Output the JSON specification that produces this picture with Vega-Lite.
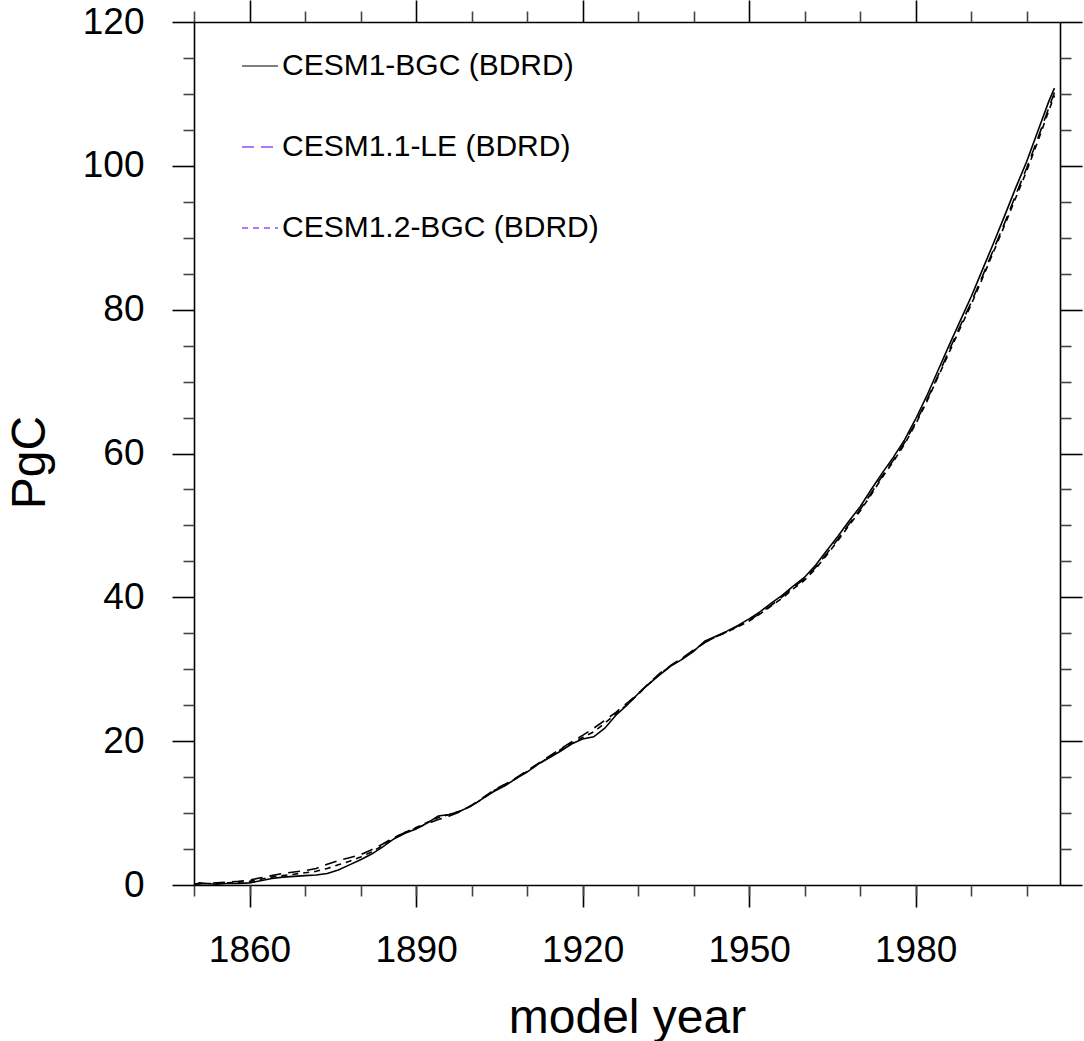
{
  "$schema": "https://vega.github.io/schema/vega-lite/v6.json",
  "autosize": "none",
  "width": 866,
  "height": 863,
  "padding": {"left": 194, "top": 22, "right": 24, "bottom": 156},
  "background": "white",
  "config": {
    "view": {"stroke": null},
    "font": "Liberation Sans",
    "axis": {
      "grid": false,
      "domainColor": "#000000",
      "domainWidth": 1.6,
      "tickColor": "#000000",
      "tickWidth": 1.6,
      "labelFont": "Liberation Sans",
      "labelColor": "#000000",
      "titleFont": "Liberation Sans",
      "titleColor": "#000000",
      "titleFontWeight": "normal"
    }
  },
  "data": {
    "values": [
      {"year": 1850, "bgc": 0.0, "le": 0.1, "bgc12": 0.1},
      {"year": 1851, "bgc": 0.3, "le": 0.15, "bgc12": 0.2},
      {"year": 1852, "bgc": 0.2, "le": 0.2, "bgc12": 0.2},
      {"year": 1854, "bgc": 0.1, "le": 0.3, "bgc12": 0.2},
      {"year": 1856, "bgc": 0.2, "le": 0.4, "bgc12": 0.3},
      {"year": 1858, "bgc": 0.2, "le": 0.5, "bgc12": 0.4},
      {"year": 1860, "bgc": 0.3, "le": 0.7, "bgc12": 0.5},
      {"year": 1862, "bgc": 0.6, "le": 1.0, "bgc12": 0.8},
      {"year": 1864, "bgc": 0.9, "le": 1.3, "bgc12": 1.1},
      {"year": 1866, "bgc": 1.1, "le": 1.6, "bgc12": 1.3},
      {"year": 1868, "bgc": 1.2, "le": 1.8, "bgc12": 1.5},
      {"year": 1870, "bgc": 1.3, "le": 2.0, "bgc12": 1.7},
      {"year": 1872, "bgc": 1.4, "le": 2.3, "bgc12": 1.9},
      {"year": 1874, "bgc": 1.6, "le": 2.9, "bgc12": 2.3},
      {"year": 1876, "bgc": 2.1, "le": 3.4, "bgc12": 2.8},
      {"year": 1878, "bgc": 2.8, "le": 3.8, "bgc12": 3.3},
      {"year": 1880, "bgc": 3.5, "le": 4.2, "bgc12": 3.9},
      {"year": 1882, "bgc": 4.3, "le": 4.9, "bgc12": 4.6},
      {"year": 1884, "bgc": 5.3, "le": 5.7, "bgc12": 5.5},
      {"year": 1886, "bgc": 6.4, "le": 6.6, "bgc12": 6.5},
      {"year": 1888, "bgc": 7.2, "le": 7.3, "bgc12": 7.3},
      {"year": 1890, "bgc": 7.8, "le": 7.9, "bgc12": 8.0},
      {"year": 1892, "bgc": 8.6, "le": 8.5, "bgc12": 8.7},
      {"year": 1894, "bgc": 9.6, "le": 9.1, "bgc12": 9.4},
      {"year": 1896, "bgc": 9.8, "le": 9.6, "bgc12": 9.8},
      {"year": 1898, "bgc": 10.3, "le": 10.2, "bgc12": 10.3},
      {"year": 1900, "bgc": 11.0, "le": 11.1, "bgc12": 11.0},
      {"year": 1902, "bgc": 12.0, "le": 12.1, "bgc12": 12.0},
      {"year": 1904, "bgc": 13.0, "le": 13.2, "bgc12": 13.1},
      {"year": 1906, "bgc": 13.8, "le": 14.0, "bgc12": 13.9},
      {"year": 1908, "bgc": 14.8, "le": 14.9, "bgc12": 14.8},
      {"year": 1910, "bgc": 15.7, "le": 15.9, "bgc12": 15.8},
      {"year": 1912, "bgc": 16.8, "le": 16.9, "bgc12": 16.8},
      {"year": 1914, "bgc": 17.7, "le": 17.9, "bgc12": 17.8},
      {"year": 1916, "bgc": 18.6, "le": 18.9, "bgc12": 18.8},
      {"year": 1918, "bgc": 19.6, "le": 19.9, "bgc12": 19.7},
      {"year": 1920, "bgc": 20.3, "le": 20.8, "bgc12": 20.5},
      {"year": 1922, "bgc": 20.6, "le": 21.8, "bgc12": 21.3},
      {"year": 1924, "bgc": 21.8, "le": 22.9, "bgc12": 22.5},
      {"year": 1926, "bgc": 23.6, "le": 24.0, "bgc12": 23.8},
      {"year": 1928, "bgc": 25.0, "le": 25.3, "bgc12": 25.1},
      {"year": 1930, "bgc": 26.6, "le": 26.6, "bgc12": 26.5},
      {"year": 1932, "bgc": 28.0, "le": 28.1, "bgc12": 28.0},
      {"year": 1934, "bgc": 29.3, "le": 29.5, "bgc12": 29.4},
      {"year": 1936, "bgc": 30.5, "le": 30.6, "bgc12": 30.5},
      {"year": 1938, "bgc": 31.4, "le": 31.6, "bgc12": 31.5},
      {"year": 1940, "bgc": 32.5, "le": 32.7, "bgc12": 32.6},
      {"year": 1942, "bgc": 33.9, "le": 33.7, "bgc12": 33.7},
      {"year": 1944, "bgc": 34.6, "le": 34.5, "bgc12": 34.5},
      {"year": 1946, "bgc": 35.3, "le": 35.2, "bgc12": 35.2},
      {"year": 1948, "bgc": 36.1, "le": 36.0, "bgc12": 35.9},
      {"year": 1950, "bgc": 37.0, "le": 36.8, "bgc12": 36.7},
      {"year": 1952, "bgc": 38.0, "le": 37.8, "bgc12": 37.7},
      {"year": 1954, "bgc": 39.2, "le": 38.9, "bgc12": 38.8},
      {"year": 1956, "bgc": 40.3, "le": 40.1, "bgc12": 39.9},
      {"year": 1958, "bgc": 41.6, "le": 41.4, "bgc12": 41.2},
      {"year": 1960, "bgc": 42.8, "le": 42.6, "bgc12": 42.4},
      {"year": 1962, "bgc": 44.5, "le": 44.2, "bgc12": 44.0},
      {"year": 1964, "bgc": 46.5, "le": 46.1, "bgc12": 45.9},
      {"year": 1966, "bgc": 48.5, "le": 48.1, "bgc12": 47.9},
      {"year": 1968, "bgc": 50.6, "le": 50.2, "bgc12": 50.0},
      {"year": 1970, "bgc": 52.6, "le": 52.2, "bgc12": 52.0},
      {"year": 1972, "bgc": 55.0, "le": 54.5, "bgc12": 54.3},
      {"year": 1974, "bgc": 57.3, "le": 56.9, "bgc12": 56.7},
      {"year": 1976, "bgc": 59.5, "le": 59.1, "bgc12": 58.9},
      {"year": 1978, "bgc": 61.9, "le": 61.5, "bgc12": 61.3},
      {"year": 1980, "bgc": 64.8, "le": 64.3, "bgc12": 64.1},
      {"year": 1982, "bgc": 68.0, "le": 67.4, "bgc12": 67.2},
      {"year": 1984, "bgc": 71.5, "le": 70.8, "bgc12": 70.6},
      {"year": 1986, "bgc": 75.0, "le": 74.3, "bgc12": 74.0},
      {"year": 1988, "bgc": 78.4, "le": 77.7, "bgc12": 77.4},
      {"year": 1990, "bgc": 81.8, "le": 81.0, "bgc12": 80.7},
      {"year": 1992, "bgc": 85.5, "le": 84.6, "bgc12": 84.3},
      {"year": 1994, "bgc": 89.2, "le": 88.3, "bgc12": 88.0},
      {"year": 1996, "bgc": 93.0, "le": 92.0, "bgc12": 91.7},
      {"year": 1998, "bgc": 96.9, "le": 95.9, "bgc12": 95.5},
      {"year": 2000, "bgc": 100.6, "le": 99.7, "bgc12": 99.3},
      {"year": 2002, "bgc": 104.8, "le": 103.8, "bgc12": 103.4},
      {"year": 2004, "bgc": 109.0, "le": 108.1, "bgc12": 107.7},
      {"year": 2005, "bgc": 110.8, "le": 110.2, "bgc12": 109.8}
    ]
  },
  "transform": [{"fold": ["bgc", "le", "bgc12"], "as": ["model", "PgC"]}],
  "layer": [
    {
      "description": "legend layer: draws no lines, carries the key and the labelled axes",
      "transform": [{"filter": "false"}],
      "mark": {"type": "line", "strokeWidth": 1.6},
      "encoding": {
        "x": {
          "field": "year", "type": "quantitative",
          "scale": {"domain": [1850, 2006], "nice": false, "zero": false},
          "axis": {
            "orient": "bottom", "values": [1860, 1890, 1920, 1950, 1980], "format": "d",
            "tickSize": 22, "labelFontSize": 37, "labelPadding": 25,
            "title": "model year", "titleFontSize": 48,
            "titleX": 433, "titleY": 133, "titleBaseline": "middle", "titleAlign": "center"
          }
        },
        "y": {
          "field": "PgC", "type": "quantitative",
          "scale": {"domain": [0, 120], "nice": false},
          "axis": {
            "orient": "left", "values": [0, 20, 40, 60, 80, 100, 120],
            "tickSize": 22, "labelFontSize": 37, "labelPadding": 28,
            "title": "PgC", "titleFontSize": 48, "titleAngle": 270,
            "titleX": -164, "titleY": 440, "titleBaseline": "middle", "titleAlign": "center"
          }
        },
        "strokeDash": {
          "field": "model", "type": "nominal",
          "scale": {"domain": ["bgc", "le", "bgc12"], "range": [[1, 0], [12, 7], [6, 5]]},
          "legend": {
            "orient": "none", "legendX": 47, "legendY": 25, "title": null,
            "symbolType": "stroke", "symbolSize": 1296, "symbolStrokeWidth": 1.6,
            "labelFontSize": 30, "labelFont": "Liberation Sans", "labelColor": "#000000",
            "labelLimit": 0, "labelOffset": 3, "rowPadding": 47,
            "labelExpr": "datum.label == 'bgc' ? 'CESM1-BGC (BDRD)' : datum.label == 'le' ? 'CESM1.1-LE (BDRD)' : 'CESM1.2-BGC (BDRD)'"
          }
        },
        "color": {
          "field": "model", "type": "nominal",
          "scale": {"domain": ["bgc", "le", "bgc12"], "range": ["#555555", "#9050ff", "#9050ff"]},
          "legend": {
            "orient": "none", "legendX": 47, "legendY": 25, "title": null,
            "symbolType": "stroke", "symbolSize": 1296, "symbolStrokeWidth": 1.6,
            "labelFontSize": 30, "labelFont": "Liberation Sans", "labelColor": "#000000",
            "labelLimit": 0, "labelOffset": 3, "rowPadding": 47,
            "labelExpr": "datum.label == 'bgc' ? 'CESM1-BGC (BDRD)' : datum.label == 'le' ? 'CESM1.1-LE (BDRD)' : 'CESM1.2-BGC (BDRD)'"
          }
        }
      }
    },
    {
      "transform": [{"filter": "datum.model == 'bgc'"}],
      "mark": {"type": "line", "strokeWidth": 1.6, "color": "#000000"},
      "encoding": {
        "x": {
          "field": "year", "type": "quantitative",
          "axis": {"orient": "bottom", "values": [1850, 1860, 1870, 1880, 1890, 1900, 1910, 1920, 1930, 1940, 1950, 1960, 1970, 1980, 1990, 2000],
                   "tickSize": 11, "tickColor": "#444444", "labels": false, "title": null, "domain": false}
        },
        "y": {
          "field": "PgC", "type": "quantitative",
          "axis": {"orient": "left", "values": [5, 10, 15, 25, 30, 35, 45, 50, 55, 65, 70, 75, 85, 90, 95, 105, 110, 115],
                   "tickSize": 11, "tickColor": "#444444", "labels": false, "title": null, "domain": false}
        }
      }
    },
    {
      "transform": [{"filter": "datum.model == 'le'"}],
      "mark": {"type": "line", "strokeWidth": 1.6, "color": "#000000", "strokeDash": [12, 7]},
      "encoding": {
        "x": {
          "field": "year", "type": "quantitative",
          "axis": {"orient": "top", "values": [1860, 1890, 1920, 1950, 1980],
                   "tickSize": 22, "labels": false, "title": null}
        },
        "y": {
          "field": "PgC", "type": "quantitative",
          "axis": {"orient": "right", "values": [0, 20, 40, 60, 80, 100, 120],
                   "tickSize": 22, "labels": false, "title": null}
        }
      }
    },
    {
      "transform": [{"filter": "datum.model == 'bgc12'"}],
      "mark": {"type": "line", "strokeWidth": 1.6, "color": "#000000", "strokeDash": [6, 5]},
      "encoding": {
        "x": {
          "field": "year", "type": "quantitative",
          "axis": {"orient": "top", "values": [1850, 1870, 1880, 1900, 1910, 1930, 1940, 1960, 1970, 1990, 2000],
                   "tickSize": 11, "tickColor": "#444444", "labels": false, "title": null, "domain": false}
        },
        "y": {
          "field": "PgC", "type": "quantitative",
          "axis": {"orient": "right", "values": [5, 10, 15, 25, 30, 35, 45, 50, 55, 65, 70, 75, 85, 90, 95, 105, 110, 115],
                   "tickSize": 11, "tickColor": "#444444", "labels": false, "title": null, "domain": false}
        }
      }
    }
  ],
  "resolve": {"axis": {"x": "independent", "y": "independent"}}
}
